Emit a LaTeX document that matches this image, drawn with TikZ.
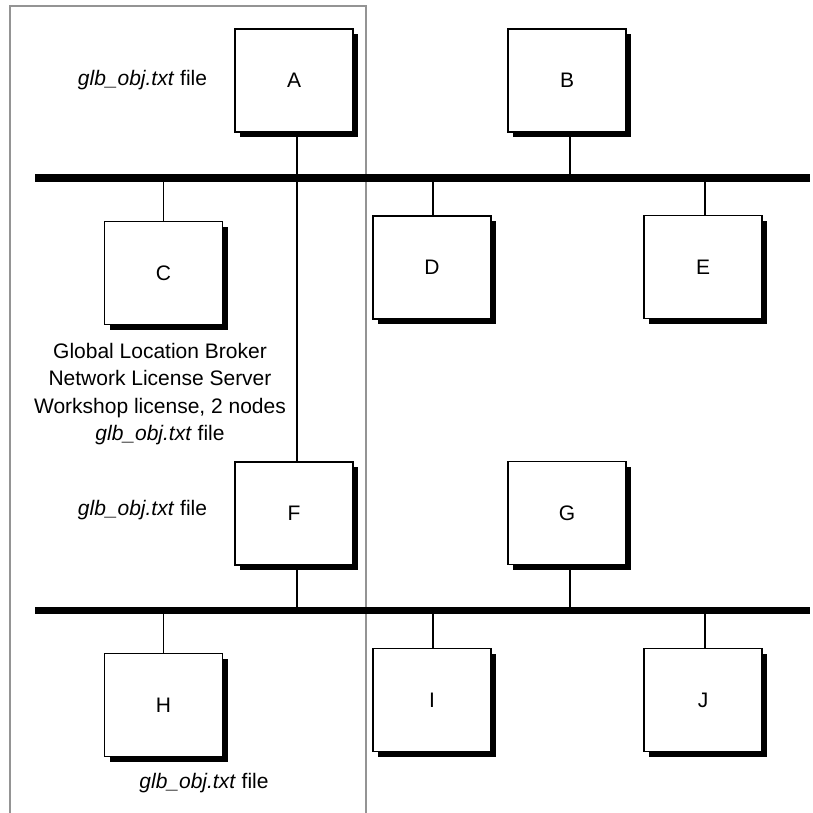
\documentclass[tikz,border=0pt]{standalone}
\usepackage{fontspec}
\setmainfont{Liberation Sans}
\usetikzlibrary{shadows}
\begin{document}
\begin{tikzpicture}[x=1pt,y=-1pt,
  every node/.style={font=\fontsize{21}{27.3}\selectfont},
  host/.style={draw=black, fill=white, line width=1.2pt, rectangle,
    minimum width=118pt, minimum height=103pt, inner sep=0pt,
    general shadow={fill=black, shadow xshift=5pt, shadow yshift=-5pt}},
  bus/.style={line width=7.5pt},
  tap/.style={line width=1.3pt},
  frame/.style={draw=black!42, line width=1.3pt},
  note/.style={align=center, inner sep=0pt}]
\useasboundingbox (0,0) rectangle (813,812);
% grey enclosure around the left column
\draw[frame] (10,6) rectangle (366,830);

% hosts on the upper segment
\node[host] (A) at (294,80.5) {A};
\node[host] (B) at (567,80.5) {B};
\node[host] (C) at (163.5,273) {C};
\node[host] (D) at (432,267.5) {D};
\node[host] (E) at (703,267) {E};
% hosts on the lower segment
\node[host] (F) at (294,513.5) {F};
\node[host] (G) at (567,513) {G};
\node[host] (H) at (163.5,705) {H};
\node[host] (I) at (432,700) {I};
\node[host] (J) at (703,700) {J};

% the two network segments
\coordinate (bus1w) at (35,178);
\coordinate (bus1e) at (810,178);
\coordinate (bus2w) at (35,610.5);
\coordinate (bus2e) at (810,610.5);

% taps from each host to its segment
\draw[tap] ([xshift=3pt]A.south) -- ([xshift=3pt]F.north);
\draw[tap] ([xshift=3pt]B.south) -- ([xshift=3pt]B.south |- bus1w);
\draw[tap] (C.north) -- (C.north |- bus1w);
\draw[tap] ([xshift=1pt]D.north) -- ([xshift=1pt]D.north |- bus1w);
\draw[tap] ([xshift=2pt]E.north) -- ([xshift=2pt]E.north |- bus1w);
\draw[tap] ([xshift=3pt]F.south) -- ([xshift=3pt]F.south |- bus2w);
\draw[tap] ([xshift=3pt]G.south) -- ([xshift=3pt]G.south |- bus2w);
\draw[tap] (H.north) -- (H.north |- bus2w);
\draw[tap] ([xshift=1pt]I.north) -- ([xshift=1pt]I.north |- bus2w);
\draw[tap] ([xshift=2pt]J.north) -- ([xshift=2pt]J.north |- bus2w);

\draw[bus] (bus1w) -- (bus1e);
\draw[bus] (bus2w) -- (bus2e);

% annotations
\node[note] (nA) at (142.5,80) {\textit{glb\_obj.txt} file};
\node[note] (nC) at (160,394) {Global Location Broker\\Network License Server\\Workshop license, 2 nodes\\\textit{glb\_obj.txt} file};
\node[note] (nF) at (142.5,510) {\textit{glb\_obj.txt} file};
\node[note] (nH) at (204,783) {\textit{glb\_obj.txt} file};
\end{tikzpicture}
\end{document}
